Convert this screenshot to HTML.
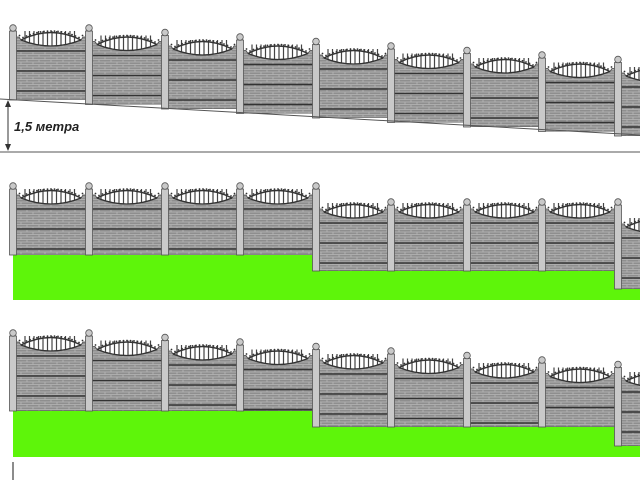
<!DOCTYPE html>
<html><head><meta charset="utf-8">
<style>html,body{margin:0;padding:0;background:#fff;width:640px;height:480px;overflow:hidden}</style>
</head><body>
<svg id="s" width="640" height="480" viewBox="0 0 640 480" xmlns="http://www.w3.org/2000/svg">
<defs>
<pattern id="br" width="12" height="5" patternUnits="userSpaceOnUse">
<rect width="12" height="5" fill="#8e8e8e"/>
<path d="M0 4.5H12M0 2H12" stroke="#b8b8b8" stroke-width="0.8"/>
<path d="M3 0V2M9 2V4.5" stroke="#b8b8b8" stroke-width="0.8"/>
</pattern>
</defs>
<rect x="13" y="255" width="303" height="45" fill="#5ef50a"/>
<rect x="316" y="271" width="302" height="29" fill="#5ef50a"/>
<rect x="618" y="289" width="22" height="11" fill="#5ef50a"/>
<rect x="13" y="411" width="303" height="46" fill="#5ef50a"/>
<rect x="316" y="427" width="302" height="30" fill="#5ef50a"/>
<rect x="618" y="446" width="22" height="11" fill="#5ef50a"/>
<g id="g"></g>
<line x1="0" y1="99" x2="640" y2="135" stroke="#555" stroke-width="1"/>
<line x1="0" y1="152" x2="640" y2="152" stroke="#555" stroke-width="1"/>
<line x1="8" y1="101" x2="8" y2="150" stroke="#333" stroke-width="1"/>
<path d="M5 107L8 100L11 107Z M5 144L8 151L11 144Z" fill="#333"/>
<text x="14" y="131" font-family="Liberation Sans, sans-serif" font-size="13" font-weight="bold" font-style="italic" fill="#222">1,5 метра</text>
<line x1="13" y1="462" x2="13" y2="480" stroke="#666" stroke-width="1.5"/>
</svg>
<script>
var g=document.getElementById('g'),h='';
var P=[13,89,165,240,316,391,467,542,618,694];
function sec(x0,x1,top,bot){
 var m=(x0+x1)/2,U=15,L=12,a=x0+8,b=x1-8;
 var clip='c'+Math.random().toString(36).slice(2);
 h+='<clipPath id="'+clip+'"><rect x="'+x0+'" y="'+(top-20)+'" width="'+(x1-x0)+'" height="'+(bot-top+20)+'"/></clipPath><g clip-path="url(#'+clip+')">';
 h+='<path d="M'+a+' '+top+' Q'+m+' '+(top-U)+' '+b+' '+top+' Q'+m+' '+(top+L)+' '+a+' '+top+'Z" fill="#fff"/>';
 for(var x=a+4;x<b-2;x+=4.5){h+='<line x1="'+x+'" y1="'+(top-9)+'" x2="'+x+'" y2="'+(top+7)+'" stroke="#444" stroke-width="1.2"/>';}
 h+='<path d="M'+x0+' '+(top-3)+' L'+(a-2)+' '+(top-3)+' L'+a+' '+top+' Q'+m+' '+(top+L)+' '+b+' '+top+' L'+(b+2)+' '+(top-3)+' L'+x1+' '+(top-3)+' L'+x1+' '+bot+' L'+x0+' '+bot+'Z" fill="url(#br)" stroke="#444" stroke-width="0.8"/>';
 h+='<path d="M'+a+' '+top+' Q'+m+' '+(top-U)+' '+b+' '+top+'" fill="none" stroke="#333" stroke-width="1.4"/>';
 h+='<path d="M'+a+' '+top+' Q'+m+' '+(top+L)+' '+b+' '+top+'" fill="none" stroke="#333" stroke-width="1.3"/>';
 for(var x=x0+3;x<x1-2;x+=3.5){var t=(x-a)/(b-a);var y=t<0||t>1?top-3:top-U*2*t*(1-t);h+='<circle cx="'+x+'" cy="'+(y-1.5)+'" r="0.9" fill="#333"/>';}
 [11,31,51].forEach(function(d){if(top+d<bot-1)h+='<line x1="'+x0+'" y1="'+(top+d)+'" x2="'+x1+'" y2="'+(top+d)+'" stroke="#333" stroke-width="1.5"/>';});
 h+='</g>';
}
function post(x,top,bot){
 h+='<rect x="'+(x-3.5)+'" y="'+top+'" width="7" height="'+(bot-top)+'" fill="#c9c9c9" stroke="#555" stroke-width="0.8"/>';
 h+='<circle cx="'+x+'" cy="'+(top-3)+'" r="3.3" fill="#c9c9c9" stroke="#555" stroke-width="0.8"/>';
}
for(var i=0;i<9;i++){var t=40+4.5*i;sec(P[i],P[i+1],t,100+4.5*i);}
for(var i=0;i<9;i++){var t=40+4.5*Math.max(0,i-1);post(P[i],t-9,100+4.5*i);}
for(var i=0;i<9;i++){var t=i<4?198:(i<8?212:227),b=i<4?255:(i<8?271:289);sec(P[i],P[i+1],t,b);}
for(var i=0;i<9;i++){var t=i<=4?189:205,b=i<4?255:(i<8?271:289);post(P[i],t,b);}
for(var i=0;i<9;i++){var t=345+4.5*i,b=i<4?411:(i<8?427:446);sec(P[i],P[i+1],t,b);}
for(var i=0;i<9;i++){var t=345+4.5*Math.max(0,i-1)-9,b=i<4?411:(i<8?427:446);post(P[i],t,b);}
g.innerHTML=h;
</script>
</body></html>
